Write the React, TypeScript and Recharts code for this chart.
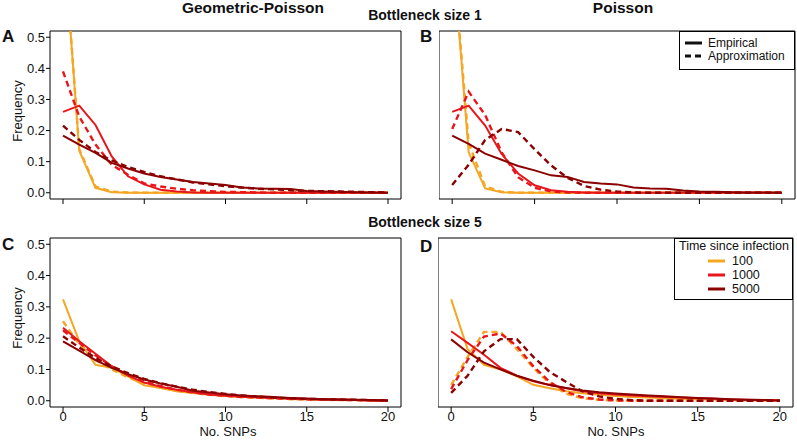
import React from 'react';
import { LineChart, Line, XAxis, YAxis, ReferenceArea } from 'recharts';

// ---- data ----
const snps = [0, 1, 2, 3, 4, 5, 6, 7, 8, 9, 10, 11, 12, 13, 14, 15, 16, 17, 18, 19, 20];
const xTicks = [0, 5, 10, 15, 20];
const yTicks = [0, 0.1, 0.2, 0.3, 0.4, 0.5];
const timeLabels = ['100', '1000', '5000'];

// Panel A: Geometric-Poisson, bottleneck size 1
const A_emp_100 = [0.85, 0.135, 0.016, 0.002, 0, 0, 0, 0, 0, 0, 0, 0, 0, 0, 0, 0, 0, 0, 0, 0, 0];
const A_apx_100 = [0.85, 0.14, 0.02, 0.004, 0.001, 0, 0, 0, 0, 0, 0, 0, 0, 0, 0, 0, 0, 0, 0, 0, 0];
const A_emp_1000 = [0.26, 0.28, 0.218, 0.117, 0.053, 0.027, 0.01, 0.004, 0.001, 0, 0, 0, 0, 0, 0, 0, 0, 0, 0, 0, 0];
const A_apx_1000 = [0.39, 0.245, 0.155, 0.09, 0.058, 0.03, 0.02, 0.013, 0.008, 0.005, 0.003, 0.002, 0.001, 0, 0, 0, 0, 0, 0, 0, 0];
const A_emp_5000 = [0.184, 0.155, 0.128, 0.096, 0.078, 0.062, 0.051, 0.043, 0.035, 0.03, 0.025, 0.017, 0.014, 0.013, 0.012, 0.006, 0.004, 0.003, 0.002, 0.001, 0];
const A_apx_5000 = [0.216, 0.17, 0.131, 0.104, 0.083, 0.067, 0.053, 0.043, 0.033, 0.027, 0.021, 0.017, 0.013, 0.011, 0.008, 0.006, 0.005, 0.004, 0.003, 0.002, 0.001];

// Panel B: Poisson, bottleneck size 1
const B_emp_100 = [0.8, 0.13, 0.014, 0.002, 0, 0, 0, 0, 0, 0, 0, 0, 0, 0, 0, 0, 0, 0, 0, 0, 0];
const B_apx_100 = [0.8, 0.16, 0.02, 0.003, 0, 0, 0, 0, 0, 0, 0, 0, 0, 0, 0, 0, 0, 0, 0, 0, 0];
const B_emp_1000 = [0.26, 0.28, 0.216, 0.125, 0.062, 0.024, 0.008, 0.003, 0.001, 0, 0, 0, 0, 0, 0, 0, 0, 0, 0, 0, 0];
const B_apx_1000 = [0.205, 0.325, 0.25, 0.13, 0.05, 0.016, 0.004, 0.001, 0, 0, 0, 0, 0, 0, 0, 0, 0, 0, 0, 0, 0];
const B_emp_5000 = [0.184, 0.157, 0.126, 0.106, 0.086, 0.072, 0.056, 0.051, 0.035, 0.03, 0.027, 0.017, 0.014, 0.013, 0.007, 0.004, 0.003, 0.002, 0.001, 0.001, 0];
const B_apx_5000 = [0.025, 0.09, 0.17, 0.205, 0.195, 0.14, 0.088, 0.048, 0.022, 0.01, 0.004, 0.001, 0, 0, 0, 0, 0, 0, 0, 0, 0];

// Panel C: Geometric-Poisson, bottleneck size 5
const C_emp_100 = [0.324, 0.19, 0.115, 0.105, 0.078, 0.049, 0.041, 0.03, 0.025, 0.02, 0.016, 0.013, 0.011, 0.009, 0.007, 0.005, 0.004, 0.003, 0.002, 0.001, 0];
const C_apx_100 = [0.254, 0.18, 0.13, 0.1, 0.075, 0.055, 0.042, 0.032, 0.025, 0.019, 0.015, 0.012, 0.009, 0.007, 0.005, 0.004, 0.003, 0.002, 0.002, 0.001, 0.001];
const C_emp_1000 = [0.233, 0.19, 0.15, 0.11, 0.08, 0.058, 0.045, 0.035, 0.027, 0.02, 0.016, 0.013, 0.011, 0.009, 0.007, 0.005, 0.004, 0.003, 0.002, 0.001, 0];
const C_apx_1000 = [0.225, 0.185, 0.145, 0.11, 0.082, 0.062, 0.047, 0.035, 0.027, 0.02, 0.016, 0.012, 0.01, 0.008, 0.006, 0.005, 0.004, 0.003, 0.002, 0.001, 0.001];
const C_emp_5000 = [0.19, 0.16, 0.13, 0.105, 0.085, 0.068, 0.055, 0.045, 0.032, 0.026, 0.021, 0.017, 0.014, 0.012, 0.009, 0.007, 0.005, 0.004, 0.003, 0.002, 0.001];
const C_apx_5000 = [0.206, 0.17, 0.137, 0.11, 0.088, 0.07, 0.056, 0.045, 0.035, 0.028, 0.022, 0.017, 0.013, 0.01, 0.008, 0.006, 0.005, 0.004, 0.003, 0.002, 0.001];

// Panel D: Poisson, bottleneck size 5
const D_emp_100 = [0.324, 0.165, 0.115, 0.1, 0.078, 0.051, 0.04, 0.03, 0.024, 0.019, 0.015, 0.012, 0.01, 0.008, 0.006, 0.005, 0.004, 0.003, 0.002, 0.001, 0];
const D_apx_100 = [0.05, 0.14, 0.22, 0.22, 0.165, 0.105, 0.055, 0.022, 0.008, 0.003, 0.001, 0, 0, 0, 0, 0, 0, 0, 0, 0, 0];
const D_emp_1000 = [0.222, 0.185, 0.147, 0.105, 0.08, 0.062, 0.05, 0.04, 0.03, 0.024, 0.02, 0.017, 0.014, 0.012, 0.01, 0.008, 0.006, 0.004, 0.003, 0.002, 0.001];
const D_apx_1000 = [0.037, 0.13, 0.205, 0.215, 0.175, 0.11, 0.06, 0.028, 0.011, 0.004, 0.001, 0, 0, 0, 0, 0, 0, 0, 0, 0, 0];
const D_emp_5000 = [0.196, 0.155, 0.122, 0.1, 0.08, 0.064, 0.05, 0.041, 0.033, 0.027, 0.023, 0.02, 0.017, 0.014, 0.011, 0.009, 0.007, 0.005, 0.003, 0.002, 0.001];
const D_apx_5000 = [0.025, 0.08, 0.158, 0.197, 0.197, 0.14, 0.092, 0.06, 0.03, 0.014, 0.006, 0.002, 0, 0, 0, 0, 0, 0, 0, 0, 0];

const COLORS = ['#F5A623', '#E8161C', '#8B0000'];
const FONT = '"Liberation Sans", Arial, Helvetica, sans-serif';

type Series = { emp: number[][]; apx: number[][] };

function buildRows(s: Series) {
  return snps.map((x, i) => {
    const r: Record<string, number> = { x };
    s.emp.forEach((arr, k) => (r['emp' + k] = arr[i]));
    s.apx.forEach((arr, k) => (r['apx' + k] = arr[i]));
    return r;
  });
}

const panels = {
  A: buildRows({ emp: [A_emp_100, A_emp_1000, A_emp_5000], apx: [A_apx_100, A_apx_1000, A_apx_5000] }),
  B: buildRows({ emp: [B_emp_100, B_emp_1000, B_emp_5000], apx: [B_apx_100, B_apx_1000, B_apx_5000] }),
  C: buildRows({ emp: [C_emp_100, C_emp_1000, C_emp_5000], apx: [C_apx_100, C_apx_1000, C_apx_5000] }),
  D: buildRows({ emp: [D_emp_100, D_emp_1000, D_emp_5000], apx: [D_apx_100, D_apx_1000, D_apx_5000] }),
};

type PanelProps = {
  rows: Record<string, number>[];
  left: number;
  top: number;
  width: number;
  height: number;
  xAxisHeight: number;
  showY: boolean;
  showXLabels: boolean;
};

function Panel({ rows, left, top, width, height, xAxisHeight, showY, showXLabels }: PanelProps) {
  const lines: React.ReactNode[] = [];
  [0, 1, 2].forEach((k) => {
    lines.push(
      <Line key={'e' + k} type="linear" dataKey={'emp' + k} stroke={COLORS[k]} strokeWidth={2}
        dot={false} activeDot={false} isAnimationActive={false} />
    );
    lines.push(
      <Line key={'a' + k} type="linear" dataKey={'apx' + k} stroke={COLORS[k]} strokeWidth={2.4}
        strokeDasharray="6 4" dot={false} activeDot={false} isAnimationActive={false} />
    );
  });
  return (
    <div style={{ position: 'absolute', left, top }}>
      <LineChart width={width} height={height} data={rows} margin={{ top: 31, right: 1, left: 0, bottom: 0 }}>
        <XAxis type="number" dataKey="x" domain={[-0.8, 20.8]} ticks={xTicks} allowDataOverflow
          axisLine={false} tickSize={5} tickMargin={0} interval={0} height={xAxisHeight}
          tickLine={{ stroke: '#000' }}
          tickFormatter={(v: number) => (showXLabels ? String(v) : '')}
          tick={{ fill: '#111', fontSize: 13 }} />
        <YAxis type="number" domain={[-0.02, 0.52]} ticks={yTicks} allowDataOverflow hide={!showY}
          width={50} axisLine={false} tickSize={4} tickMargin={1} interval={0}
          tickLine={{ stroke: '#000' }}
          tickFormatter={(v: number) => v.toFixed(1)}
          tick={{ fill: '#111', fontSize: 13 }} />
        <ReferenceArea x1={-0.8} x2={20.8} y1={-0.02} y2={0.52} fill="none" fillOpacity={0}
          stroke="#000" strokeWidth={1} ifOverflow="visible" />
        {lines}
      </LineChart>
    </div>
  );
}

export default function App() {
  return (
    <div style={{ position: 'absolute', left: 0, top: 0, width: 797, height: 444, background: '#fff', fontFamily: FONT }}>
      <Panel rows={panels.A} left={0} top={0} width={402} height={230} xAxisHeight={31} showY showXLabels={false} />
      <Panel rows={panels.B} left={439} top={0} width={357} height={230} xAxisHeight={31} showY={false} showXLabels={false} />
      <Panel rows={panels.C} left={0} top={207} width={402} height={237} xAxisHeight={37} showY showXLabels />
      <Panel rows={panels.D} left={438} top={207} width={356} height={237} xAxisHeight={37} showY={false} showXLabels />
      <svg width={797} height={444} style={{ position: 'absolute', left: 0, top: 0, pointerEvents: 'none' }}
        fontFamily={FONT}>
        <text x={253} y={13} textAnchor="middle" fontSize={15.5} fontWeight="bold" fill="#111">Geometric-Poisson</text>
        <text x={623} y={13} textAnchor="middle" fontSize={15.5} fontWeight="bold" fill="#111">Poisson</text>
        <text x={425} y={20} textAnchor="middle" fontSize={14} fontWeight="bold" fill="#111">Bottleneck size 1</text>
        <text x={425} y={227} textAnchor="middle" fontSize={14} fontWeight="bold" fill="#111">Bottleneck size 5</text>
        <text x={2} y={42} fontSize={17} fontWeight="bold" fill="#111">A</text>
        <text x={420} y={42} fontSize={17} fontWeight="bold" fill="#111">B</text>
        <text x={2} y={250} fontSize={17} fontWeight="bold" fill="#111">C</text>
        <text x={420} y={252} fontSize={17} fontWeight="bold" fill="#111">D</text>
        <text transform="translate(22,111) rotate(-90)" textAnchor="middle" fontSize={13} fill="#111">Frequency</text>
        <text transform="translate(22,318) rotate(-90)" textAnchor="middle" fontSize={13} fill="#111">Frequency</text>
        <text x={228} y={436} textAnchor="middle" fontSize={13} fill="#111">No. SNPs</text>
        <text x={616} y={436} textAnchor="middle" fontSize={13} fill="#111">No. SNPs</text>

        {/* line-type legend */}
        <rect x={679.5} y={31.5} width={115} height={38} fill="#fff" stroke="#000" strokeWidth={1} />
        <line x1={685} x2={702} y1={43} y2={43} stroke="#111" strokeWidth={3} />
        <line x1={685} x2={702} y1={56} y2={56} stroke="#111" strokeWidth={3} strokeDasharray="6 4" />
        <text x={708} y={47} fontSize={12} fill="#111">Empirical</text>
        <text x={708} y={60} fontSize={12} fill="#111">Approximation</text>

        {/* time legend */}
        <rect x={674.5} y={238.5} width={118} height={61} fill="#fff" stroke="#000" strokeWidth={1} />
        <text x={734} y={250} textAnchor="middle" fontSize={12.5} fill="#111">Time since infection</text>
        {timeLabels.map((t, k) => (
          <g key={t}>
            <line x1={708} x2={725} y1={261 + 14 * k} y2={261 + 14 * k} stroke={COLORS[k]} strokeWidth={3} />
            <text x={732} y={265 + 14 * k} fontSize={12.5} fill="#111">{t}</text>
          </g>
        ))}
      </svg>
    </div>
  );
}
